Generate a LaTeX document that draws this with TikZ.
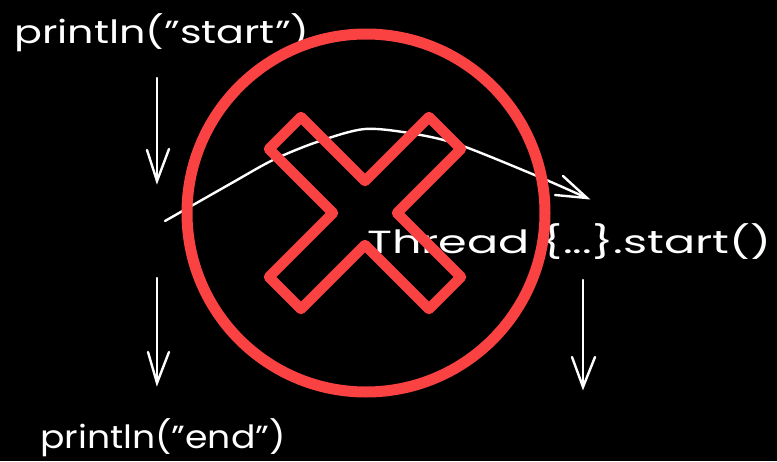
\documentclass[tikz,border=0pt]{standalone}
\usepackage{fontspec}
\usepackage{graphicx}
\setmainfont{Poppins}
\definecolor{xred}{RGB}{250,66,66}
\begin{document}
\begin{tikzpicture}[x=1pt,y=-1pt,
  lbl/.style={text=white,inner sep=0pt,anchor=base west,font=\fontsize{32}{38}\selectfont},
  flow/.style={draw=white,line width=2.4pt,line cap=round,line join=round},
  wing/.style={draw=white,line width=2.4pt,line cap=round},
  redmark/.style={draw=xred,line width=10.5pt,line join=round,line cap=round}]
\fill[black] (0,0) rectangle (777,461);
\useasboundingbox (0,0) rectangle (777,461);
% texts
\node[lbl] (start) at (14,43) {\scalebox{1.29}[1]{println("start")}};
\node[lbl] (endp) at (40,448) {\scalebox{1.13}[1]{println("end")}};
\node[lbl] (thread) at (367,253) {\scalebox{1.44}[1]{Thread \{...\}.start()}};
% points
\coordinate (a1) at (157,78);
\coordinate (a1e) at (157,181);
\coordinate (a2) at (157,278);
\coordinate (a2e) at (157,383);
\coordinate (a3) at (583,280);
\coordinate (a3e) at (583,387);
\coordinate (c0) at (165,221);
\coordinate (ce) at (587,198);
% left top arrow
\draw[flow] (a1) -- (a1e);
\draw[wing] (147,150) -- (a1e) -- (169,149);
% left bottom arrow
\draw[flow] (a2) -- (a2e);
\draw[wing] (148,352) -- (a2e) -- (169,352);
% right arrow
\draw[flow] (a3) -- (a3e);
\draw[wing] (572,357) -- (a3e) -- (595,357);
% curve
\draw[flow] plot[smooth,tension=0.5] coordinates {(165,221) (230,184) (273,160) (317,142) (365,129) (415,134) (460,145) (537,176) (587,198)};
\draw[wing] (563,176) -- (ce) -- (555,195);
% red mark
\draw[draw=xred,line width=11pt] (366,213) circle[radius=179pt];
\begin{scope}[shift={(365,213)}]
\draw[redmark] (0,-32) -- (64,-96) -- (96,-64) -- (32,0) -- (96,64) -- (64,96) -- (0,32) -- (-64,96) -- (-96,64) -- (-32,0) -- (-96,-64) -- (-64,-96) -- cycle;
\end{scope}
\end{tikzpicture}
\end{document}
